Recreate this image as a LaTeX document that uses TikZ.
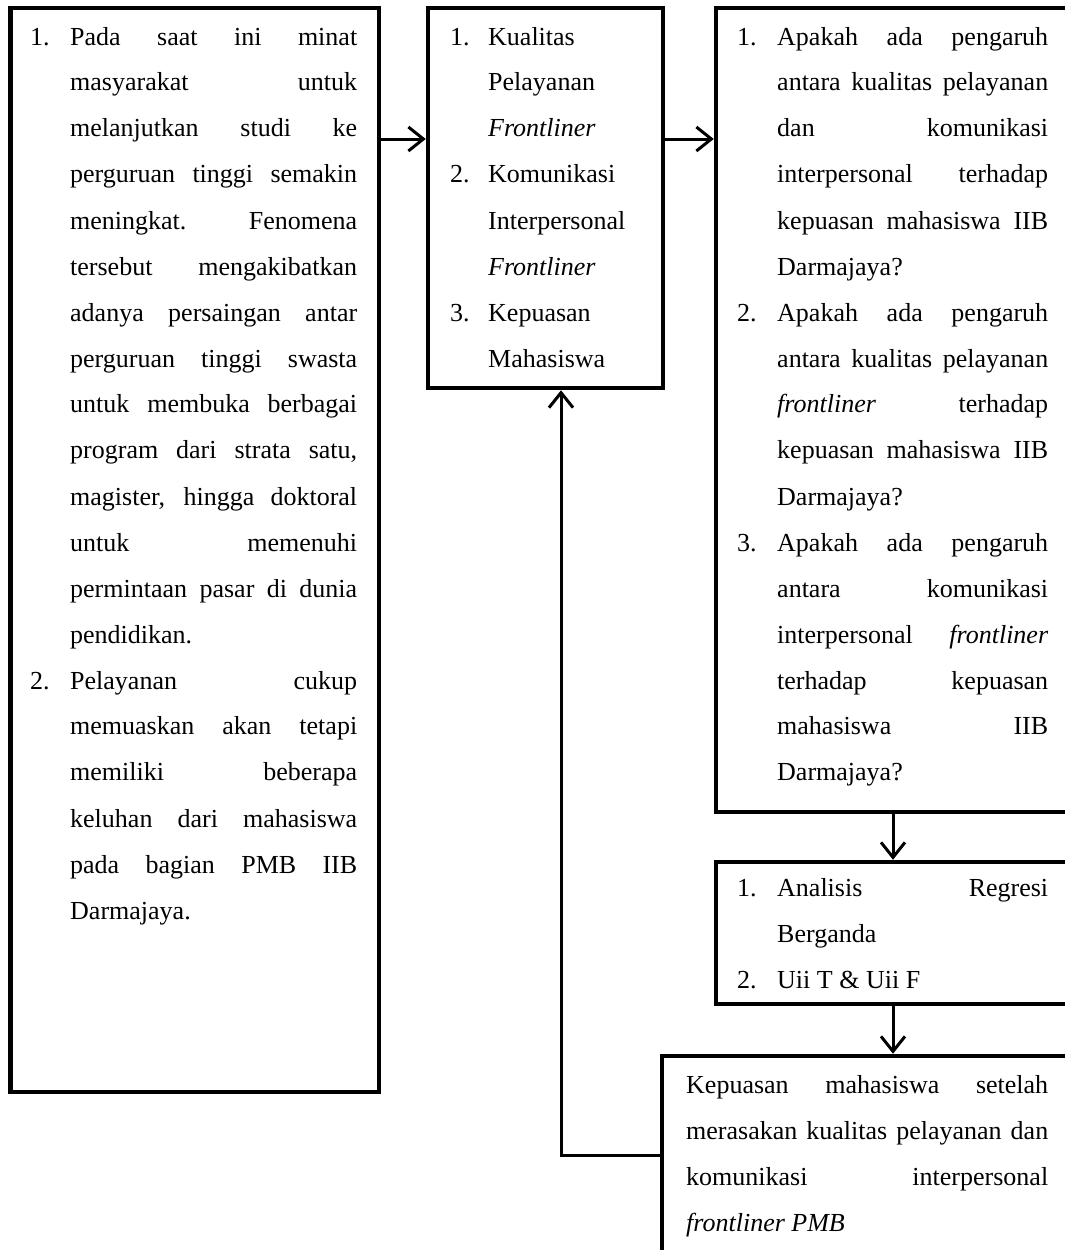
\documentclass[tikz,border=0pt]{standalone}
\usepackage{fontspec}
\setmainfont{Liberation Serif}
\usetikzlibrary{arrows.meta}
\tikzset{
    box/.style={draw=black, line width=4.5pt, inner sep=0pt},
    txt/.style={anchor=base west, inner sep=0pt, align=justify,
        font=\fontsize{26pt}{46pt}\selectfont},
    arr/.style={line width=3pt, -{Straight Barb[length=15pt, width=24pt]}}}
\newcommand{\listnum}[2][40pt]{\leavevmode\makebox[#1][l]{#2.}\hangindent=#1\hangafter=1\relax}
\tolerance=10000
\hyphenpenalty=10000

\begin{document}
\begin{tikzpicture}[x=1pt, y=-1pt]
        \useasboundingbox (0,0) rectangle (1065,1250);
        \clip (0,0) rectangle (1065,1250);

            \node[box, minimum width=368.5pt, minimum height=1084pt] (prob) at (194.75,550) {};
            \node[box, minimum width=235pt, minimum height=380pt] (var) at (545.5,198) {};
            \node[box, minimum width=369pt, minimum height=804pt] (rq) at (900.5,410) {};
            \node[box, minimum width=369pt, minimum height=142pt] (ana) at (900.5,933) {};
            \node[box, minimum width=423pt, minimum height=214pt] (res) at (873.5,1163) {};

            \node[txt, text width=327pt] (probtxt) at (30,45) {\listnum{1}Pada saat ini minat\linebreak masyarakat untuk\linebreak melanjutkan studi ke\linebreak perguruan tinggi semakin\linebreak meningkat. Fenomena\linebreak tersebut mengakibatkan\linebreak adanya persaingan antar\linebreak perguruan tinggi swasta\linebreak untuk membuka berbagai\linebreak program dari strata satu,\linebreak magister, hingga doktoral\linebreak untuk memenuhi\linebreak permintaan pasar di dunia\linebreak pendidikan.\par
                \listnum{2}Pelayanan cukup\linebreak memuaskan akan tetapi\linebreak memiliki beberapa\linebreak keluhan dari mahasiswa\linebreak pada bagian PMB IIB\linebreak Darmajaya.\par};
            \node[txt, text width=210pt] (vartxt) at (450,45) {\listnum[38pt]{1}Kualitas\newline Pelayanan\newline \textit{Frontliner}\par
                \listnum[38pt]{2}Komunikasi\newline Interpersonal\newline \textit{Frontliner}\par
                \listnum[38pt]{3}Kepuasan\newline Mahasiswa\par};
            \node[txt, text width=311pt] (rqtxt) at (737,45) {\listnum{1}Apakah ada pengaruh\linebreak antara kualitas pelayanan\linebreak dan komunikasi\linebreak interpersonal terhadap\linebreak kepuasan mahasiswa IIB\linebreak Darmajaya?\par
                \listnum{2}Apakah ada pengaruh\linebreak antara kualitas pelayanan\linebreak \textit{frontliner} terhadap\linebreak kepuasan mahasiswa IIB\linebreak Darmajaya?\par
                \listnum{3}Apakah ada pengaruh\linebreak antara komunikasi\linebreak interpersonal \textit{frontliner}\linebreak terhadap kepuasan\linebreak mahasiswa IIB\linebreak Darmajaya?\par};
            \node[txt, text width=311pt] (anatxt) at (737,896) {\listnum{1}Analisis Regresi\linebreak Berganda\par
                \listnum{2}Uii T \& Uii F\par};
            \node[txt, text width=362pt] (restxt) at (686,1093) {Kepuasan mahasiswa setelah\linebreak merasakan kualitas pelayanan dan\linebreak komunikasi interpersonal\linebreak \textit{frontliner PMB}};

            \coordinate (row) at (0,139);
            \coordinate (col) at (893,0);
            \coordinate (fb) at (561,1155);

            \draw[arr] (prob.east |- row) -- (var.west |- row);
            \draw[arr] (var.east |- row) -- (rq.west |- row);
            \draw[arr] (rq.south -| col) -- (ana.north -| col);
            \draw[arr] (ana.south -| col) -- (res.north -| col);
            \draw[arr] (res.west |- fb) -- (fb) -- (var.south -| fb);

        \end{tikzpicture}
\end{document}
